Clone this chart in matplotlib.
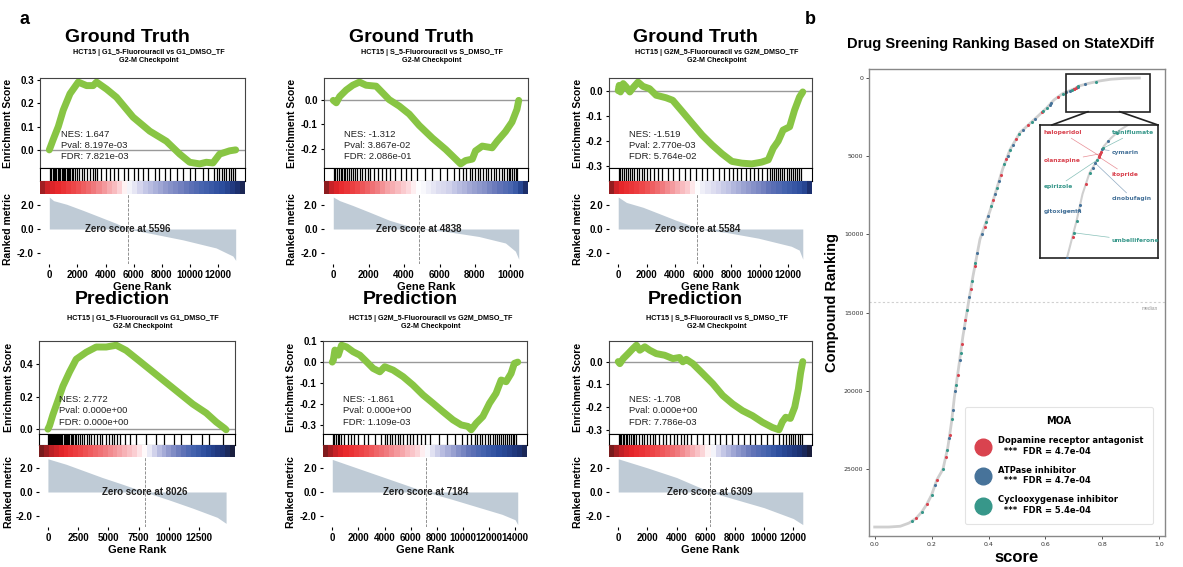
import matplotlib
matplotlib.use("Agg")
import matplotlib.pyplot as plt
import numpy as np
from matplotlib.colors import LinearSegmentedColormap, TwoSlopeNorm
from matplotlib.lines import Line2D
from matplotlib.patches import Rectangle, ConnectionPatch
from matplotlib.ticker import FormatStrFormatter, MultipleLocator
import matplotlib.transforms as mtransforms

plt.rcParams['font.family'] = ['Liberation Sans', 'DejaVu Sans']
plt.rcParams['font.weight'] = 'bold'
plt.rcParams['axes.labelweight'] = 'bold'

W, H = 1183, 567

# ---------------- panel a : GSEA plots ----------------
titles = ["Ground Truth", "Ground Truth", "Ground Truth", "Prediction", "Prediction", "Prediction"]
subtitles = [
    "HCT15 | G1_5-Fluorouracil vs G1_DMSO_TF\nG2-M Checkpoint",
    "HCT15 | S_5-Fluorouracil vs S_DMSO_TF\nG2-M Checkpoint",
    "HCT15 | G2M_5-Fluorouracil vs G2M_DMSO_TF\nG2-M Checkpoint",
    "HCT15 | G1_5-Fluorouracil vs G1_DMSO_TF\nG2-M Checkpoint",
    "HCT15 | G2M_5-Fluorouracil vs G2M_DMSO_TF\nG2-M Checkpoint",
    "HCT15 | S_5-Fluorouracil vs S_DMSO_TF\nG2-M Checkpoint",
]
n_genes = [13260, 10470, 13050, 14730, 14200, 12650]
zero_scores = [5596, 4838, 5584, 8026, 7184, 6309]
nes = ["1.647", "-1.312", "-1.519", "2.772", "-1.861", "-1.708"]
pvals = ["8.197e-03", "3.867e-02", "2.770e-03", "0.000e+00", "0.000e+00", "0.000e+00"]
fdrs = ["7.821e-03", "2.086e-01", "5.764e-02", "0.000e+00", "1.109e-03", "7.786e-03"]
xtick_steps = [2000, 2000, 2000, 2500, 2000, 2000]
es_tick_steps = [0.1, 0.1, 0.1, 0.2, 0.1, 0.1]

gt_g1_es_x = [0, 280, 640, 990, 1470, 2060, 2650, 3120, 3360, 4070, 4780, 5960, 7150, 8330,
              9280, 9990, 10700, 11170, 11640, 12120, 12830, 13260]
gt_g1_es_y = [0.0, 0.045, 0.10, 0.17, 0.24, 0.29, 0.275, 0.275, 0.29, 0.26, 0.225, 0.14, 0.08, 0.037,
              -0.018, -0.053, -0.06, -0.053, -0.056, -0.018, -0.004, 0.0]
gt_g1_hits = [60, 150, 240, 330, 420, 510, 600, 700, 780, 880, 960, 1050, 1130, 1230, 1320, 1400,
              1500, 1610, 1700, 1820, 1950, 2100, 2300, 2450, 2700, 2900, 3100, 3250, 3400, 3700,
              4000, 4300, 4600, 4900, 5300, 5600, 6000, 6300, 6700, 7000, 7500, 7800, 8200, 8600,
              9100, 9500, 10000, 10400, 10900, 11300, 11700, 11900, 12100, 12300, 12450, 12600,
              12750, 12900, 13050, 13180]
gt_g1_metric_x = [0, 300, 1230, 2410, 3600, 4780, 5596, 7150, 9510, 11870, 13060, 13260]
gt_g1_metric_y = [2.65, 2.35, 2.05, 1.54, 1.0, 0.46, 0.0, -0.35, -0.9, -1.57, -2.24, -2.6]

gt_s_es_x = [0, 170, 360, 730, 1100, 1480, 1850, 2420, 3160, 3730, 4290, 4850, 5600, 6350, 6910,
             7190, 7470, 7850, 8030, 8410, 8970, 9250, 9720, 10090, 10370, 10470]
gt_s_es_y = [0.0, -0.01, 0.016, 0.043, 0.063, 0.076, 0.063, 0.059, 0.003, -0.024, -0.057, -0.104,
             -0.157, -0.204, -0.244, -0.264, -0.25, -0.244, -0.21, -0.19, -0.197, -0.17, -0.13,
             -0.09, -0.037, 0.0]
gt_s_hits = [30, 120, 230, 300, 410, 520, 600, 690, 780, 900, 1000, 1100, 1230, 1350, 1500, 1620,
             1800, 1950, 2100, 2300, 2500, 2750, 2950, 3200, 3500, 3800, 4100, 4400, 4750, 5200,
             5600, 6000, 6400, 6800, 7100, 7300, 7500, 7700, 7850, 8000, 8150, 8300, 8450, 8600,
             8750, 8900, 9050, 9200, 9350, 9500, 9650, 9800, 9900, 10000, 10100, 10200, 10300, 10400]
gt_s_metric_x = [0, 360, 1100, 2040, 3160, 4480, 4838, 6350, 8220, 9720, 10280, 10470]
gt_s_metric_y = [2.65, 2.35, 1.95, 1.4, 0.73, 0.14, 0.0, -0.2, -0.62, -1.16, -1.84, -2.5]

gt_g2m_es_x = [0, 70, 160, 350, 580, 820, 1050, 1400, 1750, 2210, 2680, 3380, 3850, 4550, 5240,
               5940, 6640, 7340, 8040, 8740, 9440, 10140, 10610, 10960, 11310, 11660, 12120,
               12470, 12820, 13050]
gt_g2m_es_y = [0.0, 0.021, -0.005, 0.028, 0.014, -0.005, 0.012, 0.034, 0.017, 0.008, -0.018,
               -0.028, -0.038, -0.084, -0.13, -0.176, -0.215, -0.25, -0.28, -0.287, -0.29, -0.283,
               -0.274, -0.228, -0.2, -0.156, -0.143, -0.077, -0.025, -0.005]
gt_g2m_hits = [40, 130, 260, 380, 560, 700, 820, 1000, 1150, 1300, 1480, 1650, 1800, 2000, 2250,
               2500, 2800, 3100, 3500, 3900, 4300, 4700, 5100, 5500, 5900, 6300, 6700, 7100, 7500,
               7800, 8100, 8400, 8700, 9000, 9300, 9600, 9900, 10200, 10500, 10700, 10850, 11000,
               11150, 11300, 11450, 11600, 11750, 11900, 12050, 12200, 12350, 12500, 12650, 12800,
               12950]
gt_g2m_metric_x = [0, 580, 1750, 2910, 4080, 5240, 5584, 7580, 9910, 12240, 12800, 13050]
gt_g2m_metric_y = [2.65, 2.2, 1.8, 1.27, 0.73, 0.24, 0.0, -0.27, -0.76, -1.43, -1.75, -2.5]

pr_g1_es_x = [0, 140, 410, 830, 1240, 1790, 2340, 3170, 3990, 4820, 5650, 6470, 7580, 8680, 9780,
              10880, 11980, 13090, 13910, 14600, 14730]
pr_g1_es_y = [0.0, 0.022, 0.088, 0.176, 0.264, 0.352, 0.43, 0.473, 0.505, 0.505, 0.516, 0.484,
              0.418, 0.352, 0.286, 0.22, 0.154, 0.099, 0.044, 0.005, -0.004]
pr_g1_hits = [20, 80, 150, 220, 290, 360, 430, 500, 580, 650, 720, 800, 880, 950, 1030, 1110, 1200,
              1290, 1380, 1470, 1560, 1660, 1760, 1870, 1980, 2100, 2220, 2350, 2500, 2650, 2800,
              3000, 3200, 3400, 3600, 3800, 4050, 4300, 4500, 4800, 5050, 5300, 5500, 5700, 6000,
              6400, 6800, 7300, 8100, 8900, 9600, 10400, 11000, 11800, 12700, 13300, 14500]
pr_g1_metric_x = [0, 1500, 3000, 4500, 6000, 8026, 10000, 12000, 14000, 14730]
pr_g1_metric_y = [2.75, 2.3, 1.75, 1.2, 0.7, 0.0, -0.65, -1.35, -2.1, -2.6]

pr_g2m_es_x = [0, 80, 200, 460, 710, 1090, 1600, 2110, 2620, 3130, 3640, 4020, 4660, 5420, 6180,
               6950, 7710, 8470, 9240, 9870, 10380, 10640, 11020, 11530, 12040, 12540, 12930,
               13310, 13690, 13940, 14200]
pr_g2m_es_y = [0.0, 0.009, 0.057, 0.033, 0.08, 0.072, 0.049, 0.033, 0.002, -0.03, -0.046, -0.022,
               -0.038, -0.069, -0.109, -0.156, -0.195, -0.235, -0.274, -0.298, -0.305, -0.321,
               -0.29, -0.258, -0.195, -0.148, -0.085, -0.093, -0.054, -0.006, 0.0]
pr_g2m_hits = [50, 150, 300, 420, 550, 700, 900, 1200, 1400, 1700, 2000, 2400, 2700, 3300, 3700,
               4000, 4200, 4400, 4600, 4800, 5000, 5200, 5450, 5700, 5950, 6200, 6500, 6800, 7100,
               7500, 8200, 8800, 9400, 9900, 10300, 10600, 10900, 11100, 11300, 11500, 11700,
               11900, 12100, 12300, 12450, 12600, 12750, 12900, 13050, 13200, 13350, 13500, 13650,
               13800, 13950, 14100]
pr_g2m_metric_x = [0, 2000, 4000, 6000, 7184, 9000, 11000, 13000, 14000, 14200]
pr_g2m_metric_y = [2.7, 1.95, 1.2, 0.45, 0.0, -0.55, -1.2, -1.85, -2.3, -2.7]

pr_s_es_x = [0, 110, 340, 680, 1020, 1250, 1480, 1820, 2160, 2610, 3180, 3750, 4200, 4430, 4660,
             5110, 5800, 6480, 7160, 7840, 8520, 9200, 9890, 10570, 11020, 11250, 11480, 11800,
             12100, 12350, 12500, 12650]
pr_s_es_y = [0.0, -0.009, 0.013, 0.035, 0.058, 0.072, 0.05, 0.065, 0.05, 0.035, 0.028, 0.013, 0.018,
             -0.001, 0.01, -0.009, -0.053, -0.097, -0.149, -0.186, -0.216, -0.238, -0.267, -0.29,
             -0.3, -0.265, -0.245, -0.25, -0.2, -0.12, -0.05, 0.0]
pr_s_hits = [30, 100, 200, 300, 400, 500, 620, 740, 860, 980, 1100, 1250, 1420, 1600, 1780, 1950,
             2150, 2350, 2550, 2800, 3050, 3300, 3550, 3800, 4050, 4300, 4500, 4700, 5000, 5400,
             5800, 6200, 6600, 7000, 7400, 7800, 8200, 8600, 9000, 9400, 9800, 10200, 10600,
             11000, 11300, 11500, 11700, 11850, 12000, 12150, 12300, 12450, 12580]
pr_s_metric_x = [0, 2000, 4000, 6309, 8000, 10000, 12000, 12650]
pr_s_metric_y = [2.75, 2.0, 1.2, 0.0, -0.6, -1.3, -2.2, -2.7]

es_xs = [gt_g1_es_x, gt_s_es_x, gt_g2m_es_x, pr_g1_es_x, pr_g2m_es_x, pr_s_es_x]
es_ys = [gt_g1_es_y, gt_s_es_y, gt_g2m_es_y, pr_g1_es_y, pr_g2m_es_y, pr_s_es_y]
hit_lists = [gt_g1_hits, gt_s_hits, gt_g2m_hits, pr_g1_hits, pr_g2m_hits, pr_s_hits]
metric_xs = [gt_g1_metric_x, gt_s_metric_x, gt_g2m_metric_x, pr_g1_metric_x, pr_g2m_metric_x, pr_s_metric_x]
metric_ys = [gt_g1_metric_y, gt_s_metric_y, gt_g2m_metric_y, pr_g1_metric_y, pr_g2m_metric_y, pr_s_metric_y]

# ---------------- panel b : drug ranking ----------------
curve_rank = [0, 20, 80, 190, 350, 500, 700, 1000, 1400, 1900, 2500, 3500, 4600, 5800, 7000, 8500,
              10300, 12700, 14300, 16500, 18500, 20400, 22000, 23600, 25000, 25700, 26650, 27250,
              27750, 28150, 28450, 28650, 28700, 28700]
curve_score = [0.93, 0.88, 0.83, 0.79, 0.75, 0.72, 0.70, 0.66, 0.63, 0.605, 0.57, 0.51, 0.475, 0.45,
               0.43, 0.405, 0.37, 0.345, 0.33, 0.31, 0.295, 0.28, 0.27, 0.257, 0.24, 0.218, 0.2,
               0.183, 0.165, 0.145, 0.12, 0.09, 0.05, 0.0]
median_rank = 14350

moa_names = ["Dopamine receptor antagonist\n  ***  FDR = 4.7e-04",
             "ATPase inhibitor\n  ***  FDR = 4.7e-04",
             "Cyclooxygenase inhibitor\n  ***  FDR = 5.4e-04"]
moa_colors = ["#d9434f", "#47739a", "#37978a"]

dop_rank = [600, 640, 680, 700, 1200, 2200, 3000, 3900, 5200, 6200, 7800, 9500, 12000, 13500, 15500,
            17000, 19000, 22800, 24200, 25700, 27250, 28150]
dop_score = [0.71, 0.706, 0.702, 0.70, 0.645, 0.588, 0.54, 0.497, 0.463, 0.443, 0.417, 0.386, 0.352,
             0.338, 0.319, 0.306, 0.291, 0.264, 0.25, 0.218, 0.183, 0.145]
atp_rank = [400, 560, 820, 900, 1600, 1700, 2600, 3300, 4300, 5000, 6600, 7400, 8800, 10000, 11200,
            14000, 16000, 18000, 20000, 21200, 23000, 26000]
atp_score = [0.74, 0.714, 0.685, 0.673, 0.62, 0.615, 0.564, 0.522, 0.485, 0.467, 0.437, 0.423, 0.399,
             0.376, 0.361, 0.333, 0.315, 0.299, 0.283, 0.275, 0.262, 0.212]
cox_rank = [250, 540, 760, 1000, 1900, 2125, 2800, 3600, 4600, 5500, 7000, 8200, 9200, 11800, 13000,
            14800, 17600, 19600, 21800, 23800, 25000, 26650, 27750, 28300]
cox_score = [0.777, 0.716, 0.692, 0.66, 0.605, 0.592, 0.552, 0.507, 0.475, 0.456, 0.43, 0.41, 0.391,
             0.354, 0.342, 0.325, 0.302, 0.286, 0.271, 0.255, 0.24, 0.2, 0.165, 0.1325]

inset_names = ["haloperidol", "talniflumate", "cymarin", "olanzapine", "itopride", "epirizole",
               "cinobufagin", "gitoxigenin", "umbelliferone"]
inset_moa = [0, 2, 1, 0, 0, 2, 1, 1, 2]
inset_rank = [680, 540, 560, 640, 700, 760, 820, 1700, 2125]
inset_score = [0.702, 0.716, 0.714, 0.706, 0.70, 0.692, 0.685, 0.615, 0.592]


def add_ax(fig, x0, y0, x1, y1):
    return fig.add_axes([x0 / W, 1 - y1 / H, (x1 - x0) / W, (y1 - y0) / H])


fig = plt.figure(figsize=(W / 100, H / 100), dpi=100)

strip_cmap = LinearSegmentedColormap.from_list("strip", [
    (0.0, "#1a1a30"), (0.1, "#1c3070"), (0.2, "#2b4c9c"), (0.27, "#4563ae"), (0.325, "#6374b8"),
    (0.385, "#8f98cc"), (0.435, "#b8bce0"), (0.47, "#dcdcf0"), (0.5, "#ffffff"),
    (0.55, "#fbd0d4"), (0.69, "#f07c80"), (0.8, "#ee4a4c"), (0.9, "#e8262a"), (0.95, "#c02026"),
    (1.0, "#6b1a1a")])

cols = [[(40, 245), (324, 528), (609, 812)], [(39, 235), (323, 527), (609, 812)]]
rows = [(78, 168, 181, 194, 264), (341, 434, 445, 457, 527)]
title_y = [37, 300]
sub_y = [56, 323]

for i in range(6):
    r = i // 3
    x0, x1 = cols[r][i % 3]
    ya, yb, yc, yd, ye = rows[r]
    n = n_genes[i]
    xlim = (-0.05 * n, 1.05 * n)
    cx = (x0 + x1) / 2

    fig.text((cx - 15) / W, 1 - title_y[r] / H, titles[i], fontsize=14, ha="center", va="center")
    fig.text((cx + 6) / W, 1 - sub_y[r] / H, subtitles[i], fontsize=5.2, ha="center", va="center",
             linespacing=1.2)

    # running enrichment score
    ax = add_ax(fig, x0, ya, x1, yb)
    ax.plot(es_xs[i], es_ys[i], color="#88C544", lw=5, solid_capstyle="round", solid_joinstyle="round")
    ax.axhline(0, color="#999999", lw=1, zorder=0)
    ax.set_xlim(xlim)
    ax.set_xticks([])
    ax.yaxis.set_major_locator(MultipleLocator(es_tick_steps[i]))
    ax.yaxis.set_major_formatter(FormatStrFormatter("%.1f"))
    ax.tick_params(axis="y", labelsize=7, length=2.5, width=0.8, pad=2)
    ax.set_ylabel("Enrichment Score", fontsize=7.5)
    ax.yaxis.set_label_coords(-0.13, 0.5)
    for s in ax.spines.values():
        s.set_color("#444444")
        s.set_linewidth(0.8)
    ax.text(0.1, 0.08, f"NES: {nes[i]}\nPval: {pvals[i]}\nFDR: {fdrs[i]}", transform=ax.transAxes,
            fontsize=6.8, fontweight="normal", va="bottom", ha="left", linespacing=1.3, color="#222222")

    # hits
    axh = add_ax(fig, x0, yb, x1, yc)
    axh.vlines(hit_lists[i], 0, 1, color="black", lw=0.9)
    axh.set_xlim(xlim)
    axh.set_ylim(0, 1)
    axh.set_xticks([])
    axh.set_yticks([])
    for s in axh.spines.values():
        s.set_color("black")
        s.set_linewidth(0.8)

    # ranked metric colour strip
    axc = add_ax(fig, x0, yc, x1, yd)
    edges = np.linspace(0, n, 41)
    vals = np.interp((edges[:-1] + edges[1:]) / 2, metric_xs[i], metric_ys[i])
    norm = TwoSlopeNorm(vcenter=0, vmin=min(metric_ys[i]), vmax=max(metric_ys[i]))
    axc.pcolormesh(edges, [0, 1], vals[None, :], cmap=strip_cmap, norm=norm, shading="flat")
    axc.set_xlim(0, n)
    axc.axis("off")

    # ranked metric
    axr = add_ax(fig, x0, yd, x1, ye)
    axr.fill_between(metric_xs[i], metric_ys[i], 0, color="#BFCBD6", lw=0)
    axr.set_xlim(xlim)
    axr.set_ylim(-2.9, 2.9)
    axr.axvline(zero_scores[i], ls="--", lw=0.6, color="grey")
    trans = mtransforms.blended_transform_factory(axr.transData, axr.transAxes)
    axr.text(zero_scores[i], 0.5, f"Zero score at {zero_scores[i]}", transform=trans,
             ha="center", va="center", fontsize=7, color="#222222")
    axr.set_yticks([-2, 0, 2])
    axr.yaxis.set_major_formatter(FormatStrFormatter("%.1f"))
    axr.set_xticks(np.arange(0, n + 1, xtick_steps[i]))
    axr.tick_params(labelsize=7, length=2.5, width=0.8, pad=2)
    for s in axr.spines.values():
        s.set_visible(False)
    axr.set_ylabel("Ranked metric", fontsize=7.5)
    axr.yaxis.set_label_coords(-0.13, 0.5)
    axr.set_xlabel("Gene Rank", fontsize=8, labelpad=1)

fig.text(25 / W, 1 - 20 / H, "a", fontsize=13, ha="center", va="center")
fig.text(810 / W, 1 - 20 / H, "b", fontsize=13, ha="center", va="center")

# ---------------- panel b ----------------
axb = add_ax(fig, 869, 69, 1165, 536)
axb.plot(curve_score, curve_rank, color="#cfcfcf", lw=2, zorder=1)
groups = [(dop_rank, dop_score), (atp_rank, atp_score), (cox_rank, cox_score)]
for (rk, sc), c in zip(groups, moa_colors):
    axb.scatter(sc, rk, s=5, color=c, lw=0, zorder=3)
axb.set_xlim(-0.02, 1.02)
axb.set_ylim(29274, -574)
axb.axhline(median_rank, ls=(0, (2, 2)), color="#d0d0d0", lw=0.8, zorder=0)
tb = mtransforms.blended_transform_factory(axb.transAxes, axb.transData)
axb.text(0.975, median_rank + 250, "median", transform=tb, fontsize=3.5, fontweight="normal",
         color="#999999", ha="right", va="top")
axb.set_xticks(np.arange(0, 1.01, 0.2))
axb.set_yticks(np.arange(0, 25001, 5000))
axb.tick_params(labelsize=4.5, length=2, width=0.6, pad=2, colors="#333333")
for lbl in axb.get_xticklabels() + axb.get_yticklabels():
    lbl.set_fontweight("normal")
    lbl.set_family("DejaVu Sans")
for s in axb.spines.values():
    s.set_color("#888888")
    s.set_linewidth(1)
axb.set_ylabel("Compound Ranking", fontsize=10.5)
axb.yaxis.set_label_coords(-0.1, 0.5)
axb.set_xlabel("score", fontsize=12)
axb.xaxis.set_label_coords(0.5, -0.03)
fig.text(1000 / W, 1 - 44 / H, "Drug Sreening Ranking Based on StateXDiff", fontsize=10.5,
         ha="center", va="center")

handles = [Line2D([], [], marker="o", ls="", markersize=12, color=c) for c in moa_colors]
leg = axb.legend(handles, moa_names, loc="lower right", bbox_to_anchor=(0.96, 0.026),
                 title="MOA", prop={"family": "DejaVu Sans", "weight": "bold", "size": 6},
                 title_fontproperties={"family": "DejaVu Sans", "weight": "bold", "size": 7},
                 labelspacing=1.2, handletextpad=0.9, borderpad=1.1, frameon=True,
                 edgecolor="#dddddd", fancybox=True, borderaxespad=0)
leg.get_frame().set_linewidth(0.8)

# zoom rectangle + inset
axb.add_patch(Rectangle((0.672, -250), 0.296, 2400, fill=False, ec="#222222", lw=1.2, zorder=4))
axi = add_ax(fig, 1040, 125, 1158, 258)
axi.plot(curve_score, curve_rank, color="#cfcfcf", lw=1.5, zorder=1)
for (rk, sc), c in zip(groups, moa_colors):
    axi.scatter(sc, rk, s=5, color=c, lw=0, zorder=3)
axi.set_xlim(0.45, 0.95)
axi.set_ylim(2600, 100)
axi.set_xticks([])
axi.set_yticks([])
for s in axi.spines.values():
    s.set_color("#222222")
    s.set_linewidth(1.2)
label_pos = [(0.03, 0.94), (0.61, 0.94), (0.61, 0.79), (0.03, 0.73), (0.61, 0.63), (0.03, 0.54),
             (0.61, 0.45), (0.03, 0.35), (0.61, 0.13)]
for name, m, rk, sc, pos in zip(inset_names, inset_moa, inset_rank, inset_score, label_pos):
    c = moa_colors[m]
    axi.annotate(name, xy=(sc, rk), xytext=pos, textcoords="axes fraction", fontsize=4.3,
                 family="DejaVu Sans", fontweight="bold", color=c, ha="left", va="center",
                 arrowprops=dict(arrowstyle="-", color=c, lw=0.5, alpha=0.6, shrinkA=0, shrinkB=0))
for xa, xb in [(0.75, 0.1), (0.86, 1.0)]:
    con = ConnectionPatch(xyA=(xa, 2150), coordsA=axb.transData, xyB=(xb, 1.0), coordsB=axi.transAxes,
                          color="#222222", lw=1.2)
    fig.add_artist(con)

fig.savefig("out.png", dpi=100)
